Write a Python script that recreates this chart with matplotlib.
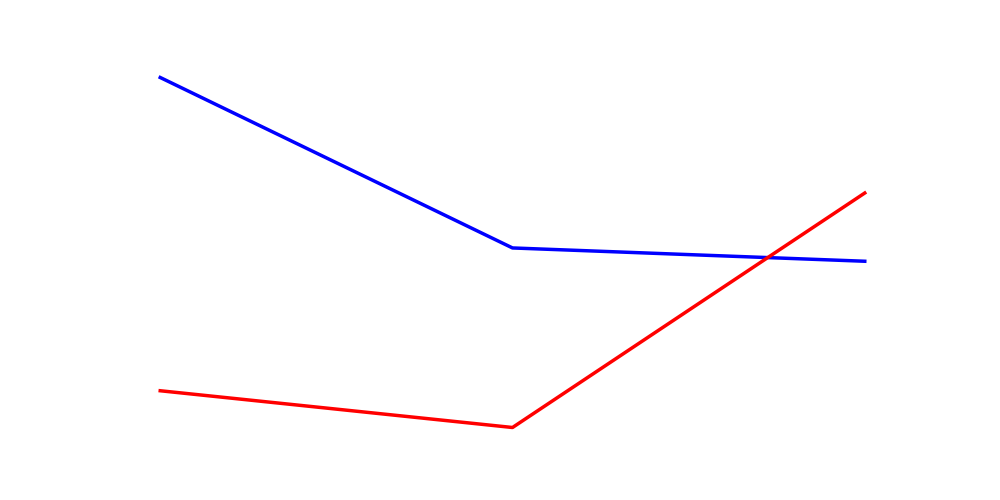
import matplotlib
matplotlib.use('Agg')
import matplotlib.pyplot as plt

# Datos de las dos series
categorias = [0, 1, 2]
serie_azul = [100, 51.3, 47.5]
serie_roja = [10.5, 0, 67]

fig, ax = plt.subplots(figsize=(10, 5), dpi=100)
ax.plot(categorias, serie_azul, color='blue', linewidth=2.5)
ax.plot(categorias, serie_roja, color='red', linewidth=2.5)
ax.axis('off')

fig.savefig('out.png')
